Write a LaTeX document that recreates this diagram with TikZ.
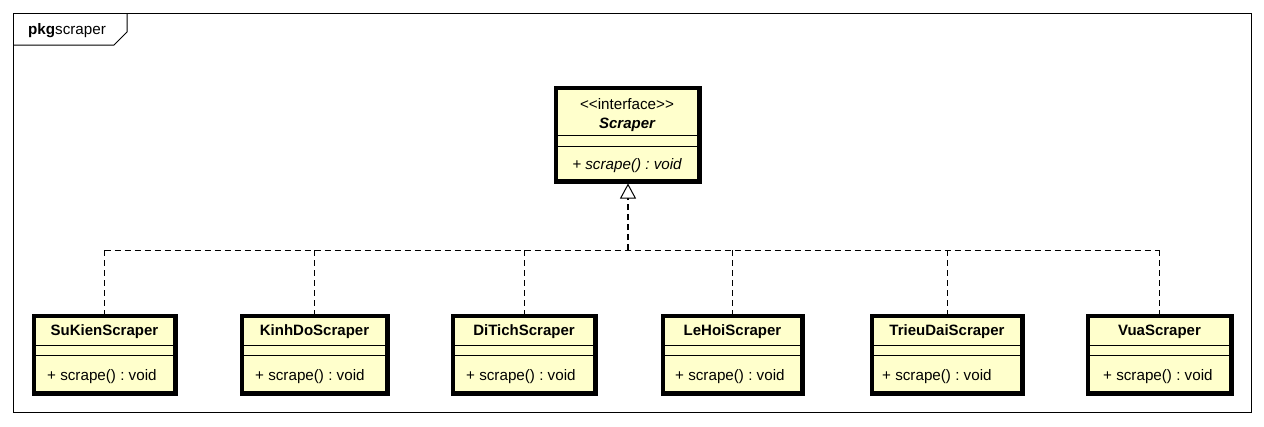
\documentclass[tikz,border=0pt]{standalone}
\usepackage{fontspec}
\newfontfamily\umlfont{Liberation Sans}
\usetikzlibrary{arrows.meta}
\definecolor{classfill}{RGB}{255,255,204}
\frenchspacing
\tikzset{
	classbox/.style={rectangle, draw=black, line width=3pt, fill=classfill, minimum height=76pt, inner sep=0pt},
	ifacebox/.style={rectangle, draw=black, line width=3pt, fill=classfill, minimum width=142pt, minimum height=92pt, inner sep=0pt},
	classname/.style={inner sep=0pt, font=\umlfont\fontsize{15}{17}\selectfont\bfseries},
	classop/.style={inner sep=0pt, anchor=west, font=\umlfont\fontsize{15.2}{17}\selectfont},
	sep/.style={line width=1pt},
	realize/.style={dashed, dash pattern=on 6pt off 4pt, line width=1pt},
}
\begin{document}
\begin{tikzpicture}[x=1pt, y=-1pt]
	\useasboundingbox (0,0) rectangle (1264,426);
	% package frame
	\draw[line width=1pt] (13,13) rectangle (1251,412);
	\draw[line width=1pt] (13,45) -- (114,45) -- (127,32) -- (127,13);
	\node[classop] at (28,31) (pkg) {\textbf{pkg}scraper};
	% interface
	\node[ifacebox] at (627.5,134.5) (Scraper) {};
	\draw[sep] ([yshift=-48.5pt]Scraper.north west) -- ([yshift=-48.5pt]Scraper.north east);
	\draw[sep] ([yshift=-59.5pt]Scraper.north west) -- ([yshift=-59.5pt]Scraper.north east);
	\node[classname, font=\umlfont\fontsize{15.2}{17}\selectfont] at (627,104) (ScraperStereo) {<{}<interface>{}>};
	\node[classname, font=\umlfont\fontsize{15}{17}\selectfont\bfseries\itshape] at (627,124.5) (ScraperName) {Scraper};
	\node[classname, font=\umlfont\fontsize{15.2}{17}\selectfont\itshape] at (627,166) (ScraperOp) {+ scrape() : void};
	\draw[line width=3pt] (Scraper.north west) rectangle (Scraper.south east);
	% classes
	\node[classbox, minimum width=140pt] at (104.5,354.5) (SuKien) {};
	\node[classbox, minimum width=144pt] at (314.5,354.5) (KinhDo) {};
	\node[classbox, minimum width=141pt] at (524,354.5) (DiTich) {};
	\node[classbox, minimum width=138pt] at (732.5,354.5) (LeHoi) {};
	\node[classbox, minimum width=149pt] at (947,354.5) (TrieuDai) {};
	\node[classbox, minimum width=142pt] at (1159.5,354.5) (Vua) {};
	\draw[sep] ([yshift=-30.5pt]SuKien.north west) -- ([yshift=-30.5pt]SuKien.north east);
	\draw[sep] ([yshift=-40.5pt]SuKien.north west) -- ([yshift=-40.5pt]SuKien.north east);
	\draw[sep] ([yshift=-30.5pt]KinhDo.north west) -- ([yshift=-30.5pt]KinhDo.north east);
	\draw[sep] ([yshift=-40.5pt]KinhDo.north west) -- ([yshift=-40.5pt]KinhDo.north east);
	\draw[sep] ([yshift=-30.5pt]DiTich.north west) -- ([yshift=-30.5pt]DiTich.north east);
	\draw[sep] ([yshift=-40.5pt]DiTich.north west) -- ([yshift=-40.5pt]DiTich.north east);
	\draw[sep] ([yshift=-30.5pt]LeHoi.north west) -- ([yshift=-30.5pt]LeHoi.north east);
	\draw[sep] ([yshift=-40.5pt]LeHoi.north west) -- ([yshift=-40.5pt]LeHoi.north east);
	\draw[sep] ([yshift=-30.5pt]TrieuDai.north west) -- ([yshift=-30.5pt]TrieuDai.north east);
	\draw[sep] ([yshift=-40.5pt]TrieuDai.north west) -- ([yshift=-40.5pt]TrieuDai.north east);
	\draw[sep] ([yshift=-30.5pt]Vua.north west) -- ([yshift=-30.5pt]Vua.north east);
	\draw[sep] ([yshift=-40.5pt]Vua.north west) -- ([yshift=-40.5pt]Vua.north east);
	\draw[line width=3pt] (SuKien.north west) rectangle (SuKien.south east);
	\draw[line width=3pt] (KinhDo.north west) rectangle (KinhDo.south east);
	\draw[line width=3pt] (DiTich.north west) rectangle (DiTich.south east);
	\draw[line width=3pt] (LeHoi.north west) rectangle (LeHoi.south east);
	\draw[line width=3pt] (TrieuDai.north west) rectangle (TrieuDai.south east);
	\draw[line width=3pt] (Vua.north west) rectangle (Vua.south east);
	\node[classname] at ([yshift=-17pt]SuKien.north) (SuKienName) {SuKienScraper};
	\node[classname] at ([yshift=-17pt]KinhDo.north) (KinhDoName) {KinhDoScraper};
	\node[classname] at ([yshift=-17pt]DiTich.north) (DiTichName) {DiTichScraper};
	\node[classname] at ([yshift=-17pt]LeHoi.north) (LeHoiName) {LeHoiScraper};
	\node[classname] at ([yshift=-17pt]TrieuDai.north) (TrieuDaiName) {TrieuDaiScraper};
	\node[classname] at ([yshift=-17pt]Vua.north) (VuaName) {VuaScraper};
	\node[classop] at ([xshift=14pt,yshift=17pt]SuKien.south west) (SuKienOp) {+ scrape() : void};
	\node[classop] at ([xshift=14pt,yshift=17pt]KinhDo.south west) (KinhDoOp) {+ scrape() : void};
	\node[classop] at ([xshift=14pt,yshift=17pt]DiTich.south west) (DiTichOp) {+ scrape() : void};
	\node[classop] at ([xshift=13pt,yshift=17pt]LeHoi.south west) (LeHoiOp) {+ scrape() : void};
	\node[classop] at ([xshift=11pt,yshift=17pt]TrieuDai.south west) (TrieuDaiOp) {+ scrape() : void};
	\node[classop] at ([xshift=16pt,yshift=17pt]Vua.south west) (VuaOp) {+ scrape() : void};
	% realization
	\node[shape=coordinate] at (104.5,250) (J1) {};
	\node[shape=coordinate] at (1159.5,250) (J6) {};
	\node[shape=coordinate] at (628,250) (JC) {};
	\draw[realize] (J1) -- (J6);
	\draw[realize] (J1) -- (SuKien.north);
	\draw[realize] (KinhDo.north |- J1) -- (KinhDo.north);
	\draw[realize] (DiTich.north |- J1) -- (DiTich.north);
	\draw[realize] (LeHoi.north |- J1) -- (LeHoi.north);
	\draw[realize] (TrieuDai.north |- J1) -- (TrieuDai.north);
	\draw[realize] (J6) -- (Vua.north);
	\draw[realize, line width=2pt, -{Triangle[open, length=15pt, width=16pt, line width=1pt, fill=white]}] (JC) -- ([yshift=-1.5pt]Scraper.south -| JC);
\end{tikzpicture}
\end{document}
